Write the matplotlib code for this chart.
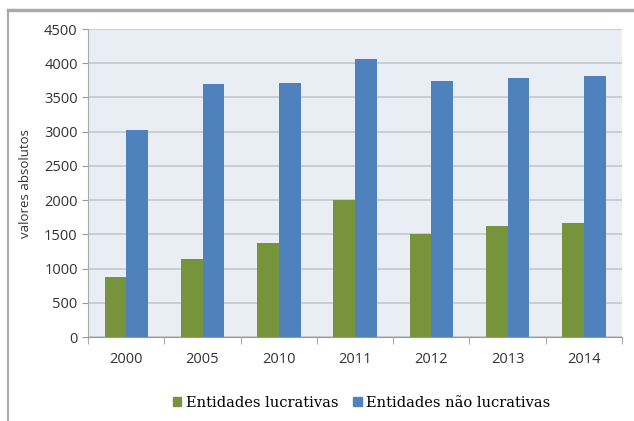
import matplotlib.pyplot as plt
from matplotlib.lines import Line2D
from matplotlib.patches import Patch
import numpy as np

# data
anos = ["2000", "2005", "2010", "2011", "2012", "2013", "2014"]
lucrativas = [870, 1135, 1370, 1995, 1500, 1620, 1670]
nao_lucrativas = [3025, 3695, 3710, 4060, 3740, 3785, 3815]
yticks = [0, 500, 1000, 1500, 2000, 2500, 3000, 3500, 4000, 4500]

GREEN = "#77933c"
BLUE = "#4f81bd"

fig = plt.figure(figsize=(6.34, 4.21), dpi=100)
fig.patch.set_facecolor("white")
ax = fig.add_axes([0.139, 0.1995, 0.842, 0.7315])
ax.set_facecolor("#e9eef5")

x = np.arange(len(anos))
w = 0.285
ax.bar(x - w / 2, lucrativas, w, color=GREEN, zorder=3)
ax.bar(x + w / 2, nao_lucrativas, w, color=BLUE, zorder=3)

ax.set_xlim(-0.5, len(anos) - 0.5)
ax.set_ylim(0, 4500)
ax.set_yticks(yticks)
ax.yaxis.grid(True, color="#c4c8cc", linewidth=1.2, zorder=0)
ax.set_xticks(x)
ax.set_xticklabels(anos)
ax.set_xticks(np.arange(len(anos) + 1) - 0.5, minor=True)
ax.tick_params(axis="x", which="major", length=0, pad=11, labelsize=10.5, colors="#333333")
ax.tick_params(axis="x", which="minor", length=5, color="#999999")
ax.tick_params(axis="y", length=4, color="#999999", labelsize=10.5, labelcolor="#333333")
for lab in ax.get_xticklabels() + ax.get_yticklabels():
    lab.set_family("Open Sans")

for s in ["top", "right"]:
    ax.spines[s].set_visible(False)
ax.spines["left"].set_color("#aaaaaa")
ax.spines["bottom"].set_color("#999999")

ax.set_ylabel("valores absolutos", fontsize=9.5, family="Open Sans", color="#333333", labelpad=9)

handles = [Patch(color=GREEN), Patch(color=BLUE)]
fig.legend(handles, ["Entidades lucrativas", "Entidades não lucrativas"],
           loc="center", bbox_to_anchor=(0.57, 0.043), ncol=2, frameon=False,
           prop={"family": "DejaVu Serif", "size": 10.5},
           handlelength=0.6, handleheight=0.6, handletextpad=0.3, columnspacing=1.0)

# outer chart frame (top and left edges visible)
fig.add_artist(Line2D([8 / 634, 1], [1 - 10 / 421, 1 - 10 / 421], color="#aaaaaa", linewidth=2.5))
fig.add_artist(Line2D([8 / 634, 8 / 634], [0, 1 - 10 / 421], color="#aaaaaa", linewidth=1.5))

fig.savefig("out.png", dpi=100)
